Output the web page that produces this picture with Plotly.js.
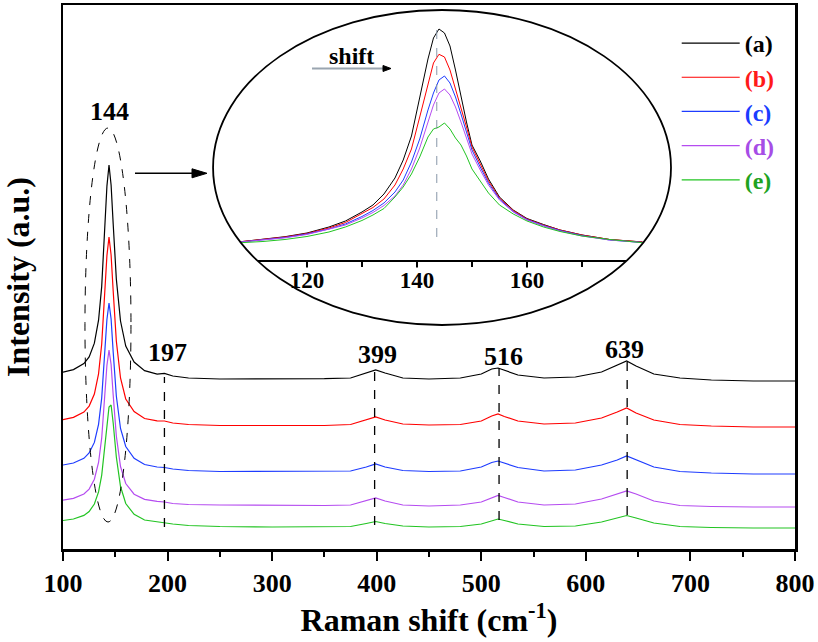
<!DOCTYPE html>
<html>
<head>
<meta charset="utf-8">
<script src="https://cdn.plot.ly/plotly-3.0.1.min.js"></script>
<style>html,body{margin:0;padding:0;background:#fff;}#chart{width:818px;height:642px;}</style>
</head>
<body>
<div id="chart"></div>
<script>
// ---- Data (intensity in arbitrary units) ----
const ramanShift = [100,110,120,125,130,134,137,140,142,144,146,148,151,155,160,168,178,190,197,205,220,250,300,350,375,390,399,408,425,450,480,500,510,516,522,535,560,590,615,630,639,648,665,690,720,760,800];
const seriesA = [176.8,179.4,185.4,192.1,205.8,228.8,262.4,319.1,362.9,384,364,325,270,228,203,187,178.4,174.8,175.6,173,171,170,170,170.3,171,176,179,176,171,170,171,175,180,181,179,174,171,172,177,184,188,183,175,171,169,168,168];
const seriesB = [129.4,131.6,136.9,142.9,154.9,175.2,204.8,254.8,293.4,312,294,258,208,171,150,137.5,130.5,128.1,128,126,124.5,123.5,123.5,123.5,124.5,129,132,129,125,124,124.5,128,133,135,132.5,128,125,126,131,137,141,136,129,124.5,123,122,122];
const seriesC = [84,86,90.7,96,106.6,124.7,150.9,195.3,229.5,246,230,197,153,120.5,102.5,90.7,84.5,82,81.5,80,78.5,77.5,77.5,77.5,78,82,85,82,78.5,77.5,78,82,86.5,88,86,81.5,78,79,84,89,93,89,82,77.5,76,75,75];
const seriesD = [48.8,50.6,55,59.9,69.8,86.5,110.8,152,183.7,199,184.5,154,113,82.5,65.5,54.8,49.6,47.6,47,45.5,44.5,44,43.5,43.5,44,48,51,48,44,43,44,47,51.5,53.5,51.5,47,44,45,50,55,58,55,48,43.5,42.5,42,42];
const seriesE = [28.5,30,33.6,37.5,45,57.1,73.7,101.5,124.9,142,144,126,92,62.5,45.5,34.6,29,27,26.5,25,23.5,22.5,22,22,22.5,25.5,27.5,25.5,23,22,22.5,25,28.5,30,28.5,25,22.5,23,27,31,33.5,31,26,22.5,21.5,21,21];

// inset: zoom of the 144 cm-1 band (baselines aligned)
const insetShift = [108,112,116,120,124,127,130,132,134,136,137.5,139,140.5,142,143,144,145,146,147,148,149,150,151.5,153,155,157.5,160,163,166,170,175,181];
const insetA = [18.3,20.5,23.3,27,33,39,48,55,66,82,100,124,162,201,222,231,227,214,190,163,138,115,99,81,63,50,41.5,35.5,30,25,20.5,18];
const insetB = [18.3,20.3,23,26.5,32,37.5,46,52.5,61,75,91,111,143,177,197,205.7,203,190,172,152,133,113,96,79,62,49.5,41,35,30,25,20.5,18];
const insetC = [18,20,22.5,26,31,36,43.5,49.5,57,68,80,98,121,150,167,180,184,177,163,146,128,110,93,77,61,48.5,40.5,34.5,29.5,24.5,20,17.5];
const insetD = [18,19.8,22.2,25.5,30.5,35,42,47.5,54.5,64,75,91,112,138,155,167,171,165,153,138,122,106,90,75,60,48,40,34,29,24,20,17.5];
const insetE = [17.3,18.5,20.5,23.5,28,33,39.5,45,51.5,63,73,86,103,123,131,133,137,131,122,115,104,91,79,67,55,46,39,33,28.5,24,20.5,17.3];

const sampleLabels = ['(a)','(b)','(c)','(d)','(e)'];
const lineColors = ['#000000','#ff0000','#1e3cff','#b54cf0','#22c422'];
const labelColors = ['#000000','#ff1a1a','#1a3cff','#a64de6','#1fa31f'];
const peakLabels = ['144','197','399','516','639'];
const insetTicks = [120,140,160];
const insetMinorTicks = [130,150,170];
const insetPeakMark = 143.6;
// ------------------------------------------------------------------

const mainY = [seriesA, seriesB, seriesC, seriesD, seriesE];
const insetY = [insetA, insetB, insetC, insetD, insetE];
const FONT = 'Liberation Serif, Times New Roman, serif';

const traces = [];
mainY.forEach((ys, i) => {
  traces.push({
    x: ramanShift, y: ys, type: 'scatter', mode: 'lines',
    line: {color: lineColors[i], width: 1.2},
    name: '<span style="color:' + labelColors[i] + '">' + sampleLabels[i] + '</span>',
    xaxis: 'x', yaxis: 'y', showlegend: true, hoverinfo: 'skip'
  });
});
insetY.forEach((ys, i) => {
  traces.push({
    x: insetShift, y: ys, type: 'scatter', mode: 'lines',
    line: {color: lineColors[i], width: 1},
    xaxis: 'x2', yaxis: 'y2', showlegend: false, hoverinfo: 'skip'
  });
});

// ellipse of the inset (paper coords)
const cx = 0.5178, cy = 0.7013, rx = 0.3128, ry = 0.2895, k = 0.5523;
const ell = `M${cx+rx},${cy} C${cx+rx},${cy+k*ry} ${cx+k*rx},${cy+ry} ${cx},${cy+ry} ` +
            `C${cx-k*rx},${cy+ry} ${cx-rx},${cy+k*ry} ${cx-rx},${cy} ` +
            `C${cx-rx},${cy-k*ry} ${cx-k*rx},${cy-ry} ${cx},${cy-ry} ` +
            `C${cx+k*rx},${cy-ry} ${cx+rx},${cy-k*ry} ${cx+rx},${cy} Z`;
// mask: rectangle around the inset minus the (clipped) ellipse interior
const mx0 = 0.2036, mx1 = 0.8347, my0 = 0.5165, my1 = 0.9945;
const clampY = 0.5174;
let poly = '';
for (let i = 0; i <= 180; i++) {
  const t = 2 * Math.PI * i / 180;
  const px = cx + rx * Math.cos(t);
  const py = Math.max(cy + ry * Math.sin(t), clampY);
  poly += (i === 0 ? 'M' : 'L') + px.toFixed(5) + ',' + py.toFixed(5) + ' ';
}
poly += 'Z';
const maskPath = `M${mx0},${my0} H${mx1} V${my1} H${mx0} Z ` + poly;

const shapes = [
  {type:'line', xref:'x', yref:'y', x0:197, x1:197, y0:22, y1:172, line:{color:'#000', width:1.3, dash:'dash'}},
  {type:'line', xref:'x', yref:'y', x0:398, x1:398, y0:24, y1:178, line:{color:'#000', width:1.3, dash:'dash'}},
  {type:'line', xref:'x', yref:'y', x0:517, x1:517, y0:29, y1:181, line:{color:'#000', width:1.3, dash:'dash'}},
  {type:'line', xref:'x', yref:'y', x0:639.5, x1:639.5, y0:34, y1:188, line:{color:'#000', width:1.3, dash:'dash'}},
  {type:'circle', xref:'x', yref:'y', x0:121, x1:165, y0:27, y1:421, line:{color:'#000', width:1, dash:'dash'}},
  {type:'line', xref:'x2', yref:'y2', x0:insetPeakMark, x1:insetPeakMark, y0:23, y1:237, line:{color:'#8796a8', width:1, dash:'dash'}},
  {type:'path', xref:'paper', yref:'paper', path: maskPath, fillcolor:'#ffffff', fillrule:'evenodd', line:{width:0}, layer:'above'},
  {type:'path', xref:'paper', yref:'paper', path: ell, line:{color:'#000', width:1.8}, layer:'above'},
  // arrow from the 144 band to the inset
  {type:'line', xref:'paper', yref:'paper', x0:0.09836, x1:0.18033, y0:0.69063, y1:0.69063, line:{color:'#000', width:1.4}, layer:'above'},
  {type:'path', xref:'paper', yref:'paper', path:'M0.17623,0.69890 L0.19672,0.69063 L0.17623,0.68235 Z', fillcolor:'#000', line:{color:'#000', width:1}, layer:'above'},
  // "shift" arrow
  {type:'line', xref:'paper', yref:'paper', x0:0.3402, x1:0.4372, y0:0.8833, y1:0.8833, line:{color:'#9aa5b0', width:2}, layer:'above'},
  {type:'path', xref:'paper', yref:'paper', path:'M0.43716,0.88879 L0.44809,0.88327 L0.43716,0.87776 Z', fillcolor:'#000', line:{color:'#000', width:1}, layer:'above'}
];

const annFont = {family: FONT, size: 26, color: '#000', weight: 'bold'};
const annPos = [[144,438],[200,196.5],[401,195],[520.8,193],[637.4,200]];
const annotations = peakLabels.map((t, i) => ({
  x: annPos[i][0], y: annPos[i][1], xref:'x', yref:'y', text: t, showarrow:false, font: annFont,
  xanchor:'center', yanchor:'middle'
}));
annotations.push({x:(351.7-63)/732, y:(549-55.7)/544, xref:'paper', yref:'paper', text:'shift', showarrow:false,
  xanchor:'center', yanchor:'middle', font:{family: FONT, size: 24, color:'#000', weight:'bold'}});

const layout = {
  width: 818, height: 642,
  margin: {l:63, r:23, t:5, b:93},
  paper_bgcolor:'#fff', plot_bgcolor:'#fff',
  font: {family: FONT, size: 26, color: '#000', weight: 'bold'},
  showlegend: true,
  legend: {x: 0.8384, xanchor:'left', y: 0.9707, yanchor:'top', font:{family: FONT, size:24, weight:'bold'},
           itemwidth: 58, bgcolor:'rgba(0,0,0,0)', borderwidth:0, tracegroupgap:0},
  xaxis: {
    range:[100,800], dtick:100, showgrid:false, zeroline:false,
    showline:true, linewidth:2.5, linecolor:'#000', mirror:true,
    ticks:'outside', ticklen:9, tickwidth:2, tickcolor:'#000',
    minor:{ticks:'outside', dtick:50, ticklen:5, tickwidth:2, tickcolor:'#000', showgrid:false},
    tickfont:{family: FONT, size:26, weight:'bold'},
    title:{text:'Raman shift (cm<sup>-1</sup>)', font:{family: FONT, size:32, weight:'bold'}, standoff:8}
  },
  yaxis: {
    range:[0,544], showgrid:false, zeroline:false, showticklabels:false, ticks:'',
    showline:true, linewidth:2.5, linecolor:'#000', mirror:true,
    title:{text:'Intensity (a.u.)', font:{family: FONT, size:32, weight:'bold'}, standoff:24}
  },
  xaxis2: {
    domain:[0.2206, 0.8217], anchor:'y2', range:[105,185],
    showgrid:false, zeroline:false, showline:true, linewidth:2, linecolor:'#000',
    tickmode:'array', tickvals: insetTicks, ticks:'outside', ticklen:6, tickwidth:1.5, tickcolor:'#000',
    ticklabelstandoff:-8,
    minor:{tickmode:'array', tickvals: insetMinorTicks, ticks:'outside', ticklen:5, tickwidth:1.5, tickcolor:'#000'},
    tickfont:{family: FONT, size:23, weight:'bold'}
  },
  yaxis2: {
    domain:[0.53125, 0.97243], anchor:'x2', range:[0,240], visible:false
  },
  shapes: shapes,
  annotations: annotations
};

Plotly.newPlot('chart', traces, layout, {displayModeBar:false, staticPlot:true});
</script>
</body>
</html>
